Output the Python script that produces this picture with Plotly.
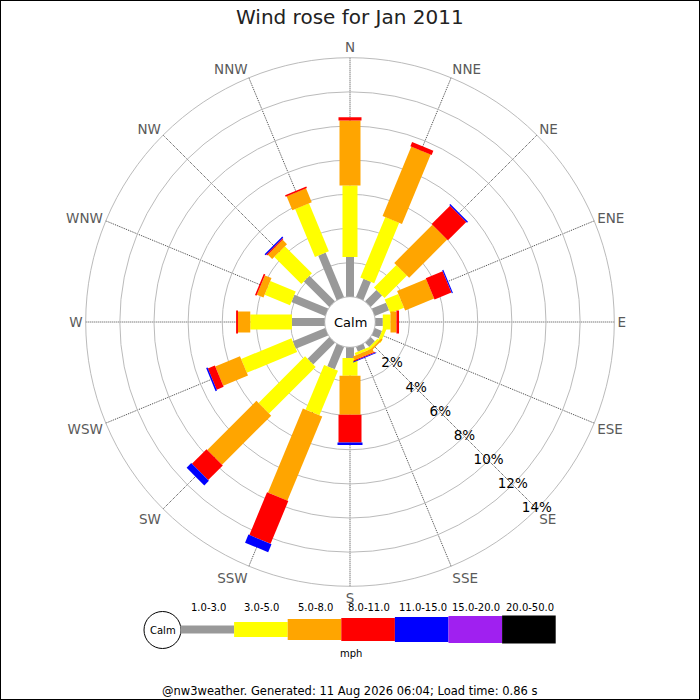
import plotly.graph_objects as go
import numpy as np

# ---------------- data ----------------
directions = ["N", "NNE", "NE", "ENE", "E", "ESE", "SE", "SSE",
              "S", "SSW", "SW", "WSW", "W", "WNW", "NW", "NNW"]
angles = [i * 22.5 for i in range(16)]

speed_bins = ["1.0-3.0", "3.0-5.0", "5.0-8.0", "8.0-11.0", "11.0-15.0", "15.0-20.0", "20.0-50.0"]
bin_colors = ["#999999", "#ffff00", "#ffa500", "#ff0000", "#0000ff", "#a020f0", "#000000"]
bin_widths = [8, 15, 21, 23, 25, 27, 28]

# percentage of time per direction, per speed bin (mph)
pct_1_3   = [2.33, 1.16, 0.94, 0.90, 0.44, 0.45, 0.35, 0.30, 0.63, 1.42, 1.80, 2.05, 1.92, 2.14, 2.11, 2.82]
pct_3_5   = [4.19, 3.83, 1.86, 0.86, 0.45, 0.20, 0.15, 0.15, 1.04, 2.83, 3.86, 3.19, 2.44, 1.61, 2.24, 3.04]
pct_5_8   = [3.80, 4.40, 3.16, 1.84, 0.35, 0.00, 0.10, 0.23, 2.28, 5.34, 4.07, 1.57, 0.72, 0.42, 0.36, 0.88]
pct_8_11  = [0.19, 0.26, 1.52, 1.07, 0.15, 0.00, 0.00, 0.06, 1.62, 2.71, 1.21, 0.44, 0.11, 0.09, 0.07, 0.09]
pct_11_15 = [0.00, 0.00, 0.08, 0.07, 0.00, 0.00, 0.00, 0.05, 0.15, 0.51, 0.38, 0.09, 0.00, 0.00, 0.08, 0.00]
pct_15_20 = [0.0] * 16
pct_20_50 = [0.0] * 16

radial_ticks = [2, 4, 6, 8, 10, 12, 14]
radial_labels = ["2%", "4%", "6%", "8%", "10%", "12%", "14%"]

title_text = "Wind rose for Jan 2011"
footer_text = "@nw3weather. Generated: 11 Aug 2026 06:04; Load time: 0.86 s"

# ---------------- figure ----------------
series = [pct_1_3, pct_3_5, pct_5_8, pct_8_11, pct_11_15, pct_15_20, pct_20_50]
stack = np.vstack(series)
cum = np.cumsum(stack, axis=0)
base = cum - stack

W = H = 700
cx, cy = 350, 322
R = 264.3


def px(x):
    return x / W


def py(y):
    return 1 - y / H


fig = go.Figure()

for k in range(len(series)):
    rr, tt = [], []
    for d in range(16):
        if stack[k, d] <= 0:
            continue
        rr += [base[k, d], cum[k, d], None]
        tt += [angles[d], angles[d], None]
    if not rr:
        continue
    fig.add_trace(go.Scatterpolar(
        r=rr, theta=tt, mode="lines",
        line=dict(color=bin_colors[k], width=bin_widths[k]),
        connectgaps=False, hoverinfo="skip", showlegend=False,
    ))

# radial tick labels along SE
fig.add_trace(go.Scatterpolar(
    r=radial_ticks, theta=[135] * len(radial_ticks), mode="text",
    text=radial_labels, textposition="middle center",
    textfont=dict(family="DejaVu Sans", size=13.5, color="#000000"),
    hoverinfo="skip", showlegend=False,
))

hole = 25.3 / R
fig.update_layout(
    width=W, height=H,
    margin=dict(l=0, r=0, t=0, b=0),
    paper_bgcolor="white",
    font=dict(family="DejaVu Sans"),
    showlegend=False,
    polar=dict(
        domain=dict(x=[px(cx - R), px(cx + R)], y=[py(cy + R), py(cy - R)]),
        bgcolor="white",
        hole=hole,
        radialaxis=dict(
            range=[0, 14], tickmode="array", tickvals=radial_ticks,
            showticklabels=False, ticks="", showline=False,
            gridcolor="#bbbbbb", gridwidth=1, angle=-45,
            layer="below traces",
        ),
        angularaxis=dict(
            rotation=90, direction="clockwise",
            tickmode="array", tickvals=angles, ticktext=directions,
            tickfont=dict(family="DejaVu Sans", size=13.5, color="#5a5a5a"),
            ticks="", showline=True, linecolor="#bbbbbb", linewidth=1,
            gridcolor="#444444", gridwidth=1, griddash="1px,1px",
            layer="below traces",
        ),
    ),
)


def ann(text, x, y, size, color="#000000"):
    return dict(text=text, x=px(x), y=py(y), xref="paper", yref="paper",
                xanchor="center", yanchor="middle", showarrow=False,
                font=dict(size=size, color=color))


annotations = [
    ann(title_text, 350, 17, 20, "#222222"),
    ann("Calm", cx, cy, 13),
    ann(footer_text, 349, 691, 11.5),
    ann("mph", 351, 653, 10),
    ann("Calm", 162.5, 630, 10),
]

shapes = [
    dict(type="rect", xref="paper", yref="paper", x0=0, x1=1, y0=0, y1=1,
         line=dict(color="black", width=2)),
    dict(type="circle", xref="paper", yref="paper",
         x0=px(162.5 - 18.5), x1=px(162.5 + 18.5), y0=py(630 + 18.5), y1=py(630 - 18.5),
         line=dict(color="black", width=1), fillcolor="white"),
]

# legend key
key_x0 = 180.5
key_w = 53.6
key_cy = 629.5
for k, lab in enumerate(speed_bins):
    x0 = key_x0 + k * key_w
    h = bin_widths[k]
    shapes.append(dict(type="rect", xref="paper", yref="paper",
                       x0=px(x0), x1=px(x0 + key_w),
                       y0=py(key_cy + h / 2), y1=py(key_cy - h / 2),
                       line=dict(width=0), fillcolor=bin_colors[k]))
    annotations.append(ann(lab, x0 + key_w / 2 + 1, 607, 10))

fig.update_layout(annotations=annotations, shapes=shapes)

fig.write_html("out.html",
               config={"displayModeBar": False},
               post_script="document.body.style.margin='0';document.body.style.padding='0';")
